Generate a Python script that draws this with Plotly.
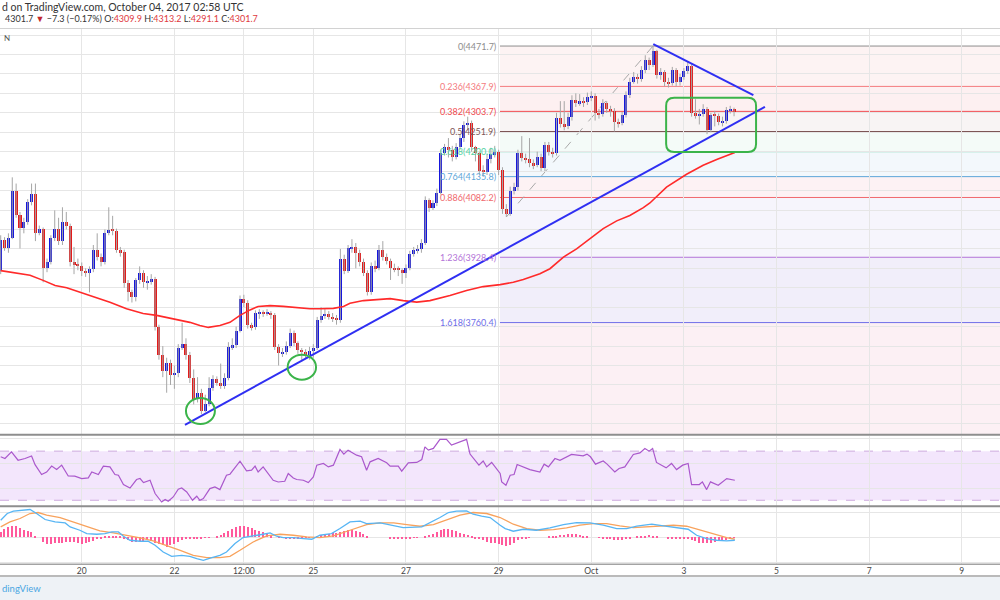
import plotly.graph_objects as go

# ---------------- data (2h BTCUSD candles, index 0 = Sep 18 06:00) ----------------
first_open = 3894
closes = [
    3972, 3951, 3979, 4098, 4036, 4003, 4020, 4070, 4090, 3992,
    4000, 3900, 3917, 3977, 4002, 3969, 4020, 4010, 3915, 3910,
    3907, 3892, 3889, 3897, 3946, 3930, 3917, 3992, 3998, 3996,
    3946, 3941, 3861, 3838, 3825, 3869, 3887, 3864, 3866, 3872,
    3748, 3676, 3637, 3657, 3626, 3630, 3696, 3706, 3676, 3619,
    3564, 3580, 3534, 3552, 3593, 3616, 3606, 3598, 3619, 3697,
    3702, 3740, 3820, 3812, 3753, 3748, 3784, 3786, 3784, 3786,
    3779, 3697, 3681, 3685, 3700, 3734, 3708, 3690, 3685, 3676,
    3688, 3695, 3766, 3778, 3782, 3775, 3772, 3768, 3925, 3894,
    3951, 3956, 3940, 3917, 3889, 3838, 3905, 3900, 3946, 3930,
    3920, 3902, 3897, 3896, 3887, 3902, 3938, 3946, 3949, 3966,
    4075, 4055, 4067, 4095, 4196, 4211, 4204, 4186, 4211, 4234,
    4268, 4275, 4211, 4196, 4150, 4148, 4180, 4194, 4198, 4152,
    4052, 4040, 4098, 4108, 4196, 4183, 4180, 4170, 4165, 4186,
    4158, 4217, 4200, 4196, 4286, 4270, 4265, 4289, 4332, 4325,
    4330, 4327, 4340, 4343, 4299, 4296, 4325, 4310, 4305, 4276,
    4273, 4294, 4345, 4380, 4392, 4386, 4410, 4436, 4423, 4458,
    4397, 4404, 4379, 4376, 4410, 4379, 4392, 4408, 4420, 4299,
    4294, 4297, 4309, 4255, 4294, 4292, 4276, 4279, 4307, 4309.9,
    4301.7]
highs = [
    3985, 3980, 3990, 4134, 4118, 4045, 4030, 4078, 4118, 4118,
    4010, 4005, 3925, 3985, 4049, 4030, 4057, 4045, 4015, 3955,
    3925, 3915, 3900, 3905, 3960, 3990, 3938, 4000, 4057, 4035,
    4002, 3955, 3948, 3870, 3845, 3875, 3905, 3895, 3880, 3885,
    3878, 3755, 3700, 3670, 3665, 3650, 3705, 3760, 3720, 3685,
    3640, 3620, 3590, 3575, 3620, 3625, 3622, 3655, 3630, 3710,
    3720, 3750, 3830, 3832, 3818, 3760, 3792, 3795, 3792, 3795,
    3790, 3785, 3705, 3695, 3712, 3745, 3740, 3712, 3695, 3692,
    3698, 3705, 3775, 3800, 3795, 3790, 3785, 3780, 3950, 3935,
    3960, 3975, 3965, 3948, 3925, 3895, 3915, 3920, 3960, 3970,
    3938, 3925, 3912, 3905, 3900, 3910, 3945, 3955, 3960, 3975,
    4085, 4080, 4075, 4105, 4205, 4220, 4235, 4215, 4222, 4245,
    4278, 4290, 4280, 4215, 4200, 4165, 4195, 4210, 4215, 4205,
    4160, 4065, 4110, 4120, 4205, 4240, 4195, 4235, 4180, 4200,
    4195, 4225, 4225, 4210, 4300, 4330, 4330, 4300, 4345, 4350,
    4348, 4340, 4352, 4355, 4350, 4310, 4335, 4330, 4318, 4312,
    4285, 4302, 4355, 4390, 4405, 4400, 4420, 4448, 4442, 4471.7,
    4462, 4415, 4410, 4390, 4418, 4415, 4400, 4415, 4432, 4425,
    4335, 4310, 4322, 4315, 4300, 4305, 4298, 4290, 4315, 4318,
    4313.2]
lows = [
    3885, 3945, 3940, 3975, 4030, 3951, 3990, 4012, 4062, 3970,
    3985, 3864, 3890, 3910, 3970, 3960, 3960, 4000, 3905, 3885,
    3895, 3880, 3878, 3838, 3890, 3920, 3905, 3910, 3985, 3985,
    3940, 3930, 3850, 3815, 3812, 3815, 3860, 3850, 3845, 3858,
    3740, 3665, 3620, 3580, 3600, 3590, 3620, 3690, 3665, 3605,
    3550, 3555, 3525, 3530, 3545, 3585, 3598, 3590, 3590, 3612,
    3690, 3695, 3735, 3800, 3745, 3740, 3742, 3770, 3775, 3778,
    3770, 3690, 3650, 3672, 3678, 3695, 3700, 3680, 3660, 3668,
    3665, 3670, 3690, 3760, 3770, 3768, 3762, 3755, 3760, 3885,
    3888, 3940, 3900, 3905, 3880, 3830, 3832, 3890, 3895, 3920,
    3910, 3870, 3890, 3880, 3860, 3875, 3895, 3930, 3938, 3940,
    3960, 4045, 4050, 4060, 4090, 4190, 4185, 4175, 4180, 4205,
    4225, 4255, 4200, 4175, 4140, 4135, 4140, 4170, 4185, 4140,
    4040, 4031.9, 4035, 4090, 4100, 4175, 4170, 4160, 4155, 4160,
    4150, 4150, 4190, 4185, 4190, 4262, 4255, 4258, 4280, 4315,
    4318, 4315, 4320, 4330, 4280, 4285, 4290, 4300, 4290, 4252,
    4262, 4268, 4288, 4338, 4375, 4375, 4380, 4402, 4410, 4418,
    4388, 4385, 4368, 4365, 4370, 4368, 4370, 4385, 4400, 4290,
    4285, 4270, 4290, 4245, 4250, 4265, 4268, 4265, 4272, 4298,
    4291.1]
opens = [first_open] + closes[:-1]
idx = list(range(len(closes)))

# moving average (red)
ma_x = [0, 2.4, 7.6, 11.0, 14.1, 17.1, 20.5, 24, 28.3, 32.6, 36.9, 40.4, 44.7, 49, 51.6, 53.8,
        56.8, 59.4, 62, 64.6, 66.7, 69.8, 73.2, 76.7, 80.1, 82.7, 86.2, 88.8, 90.5, 94, 100.9,
        104.3, 107.8, 111.2, 116.4, 120.7, 125, 129.4, 132.8, 135.4, 139.7, 142.3, 145.8, 149.2,
        152.7, 156.1, 159.6, 163, 166.5, 168.2, 172.5, 177.7, 182, 185.5, 190.2]
ma_y = [3894, 3890, 3882, 3869, 3856, 3850, 3839, 3827, 3813, 3796, 3784, 3779, 3770, 3761, 3753, 3748,
        3753, 3761, 3779, 3793, 3802, 3804, 3802, 3798, 3796, 3796, 3797, 3802, 3810, 3817, 3822,
        3817, 3813, 3817, 3830, 3843, 3853, 3858, 3864, 3871, 3886, 3899, 3929, 3950,
        3976, 4002, 4022, 4036, 4056, 4068, 4109, 4142, 4165, 4180, 4198]

# RSI
rsi_x = [0, 1.1, 2.8, 4.5, 6.3, 8, 8.9, 10.6, 11.9, 13.2, 14.5, 15.8, 17.5, 19.2, 21, 22.7, 23.6, 25.3,
         26.6, 28.3, 29.6, 30.5, 31.8, 33.5, 35.2, 36.1, 37, 38.7, 40, 41.7, 42.6, 43.4, 44.7, 46, 46.9,
         48.2, 49.7, 50.8, 51.6, 52.5, 54.2, 55.5, 56.8, 58.5, 59.4, 62, 63.7, 65, 65.9, 66.7, 68, 70.6,
         71.9, 73.6, 74.5, 75.8, 76.7, 78.4, 79.7, 81, 81.9, 83.6, 84.9, 86.2, 87.9, 88.9, 90, 92.2, 93.5,
         94.8, 95.7, 97.8, 100, 100.9, 103, 103.9, 105.6, 107.8, 109.1, 109.9, 110.8, 112.1, 113.8, 115.5,
         116.8, 118.1, 119.4, 120.7, 121.6, 123.9, 125, 125.9, 127.2, 129.4, 129.8, 130.9, 132, 133,
         133.8, 135, 137.1, 139.7, 140.8, 141.9, 143.6, 144.9, 147.9, 150.9, 151.9, 152.8, 154.1, 156.1,
         157.1, 159.1, 160.2, 161.7, 163.9, 165.6, 166.9, 168, 168.9, 169.9, 172.4, 173.8, 175.1, 176.7,
         178.1, 179, 181, 181.8, 182.9, 183.9, 185.9, 188.1, 190.2]
rsi_y = [65.4, 64, 69.4, 62.6, 64, 66, 59, 51, 53, 57.8, 55, 58.6, 49.8, 49.6, 47.7, 48.2, 53, 51,
         57.8, 57.2, 51, 50.4, 42.8, 40, 46.9, 47.7, 44.4, 46.3, 35.5, 28.6, 30.6, 29.2, 32.7, 39, 40,
         36.8, 30, 33.3, 30, 31.4, 39.5, 40.9, 38.7, 50.4, 51.2, 61.8, 53.9, 54.5, 57.8, 53, 57.2, 46.3,
         44.9, 45.5, 51.8, 48.2, 46.9, 46.3, 44.4, 49, 58.6, 60, 57.2, 58.6, 71.4, 67.6, 70.8, 66.7, 65.4,
         54.5, 61.3, 64, 60.5, 57.8, 57.8, 53.7, 60.5, 60.8, 63.2, 73.5, 70.8, 72.2, 79.6, 79.6,
         74.9, 76.3, 77.6, 79.6, 67.6, 58.6, 62, 57.2, 60.8, 51.8, 45, 42.2, 50.4, 51,
         59.1, 57.8, 55, 53, 59.4, 57.2, 64, 62.6, 67.3, 66.2, 67.6, 65.4, 59.4, 62,
         59.4, 53, 55.9, 57.2, 67.3, 68.6, 72.2, 70, 72.2, 60.8, 56.4, 60, 55, 58.6,
         60, 42.8, 42.8, 45, 38.7, 45, 42.2, 47.7, 46.3]

# MACD line, signal line, histogram
macd_x = [0, 1.7, 3.3, 7.6, 9.3, 11.5, 14.1, 16.7, 18, 20.5, 22.3, 24.9, 27, 28.8, 30.5, 31.8, 33.5,
          36.1, 38.2, 40, 42.1, 44.3, 46.9, 49, 50.8, 52.5, 54.7, 56.8, 58.5, 60.7, 62.8, 65.4, 68,
          69.8, 71.5, 73.2, 75.8, 78.4, 80.6, 82.7, 85.7, 87.9, 90.5, 93.1, 94.8, 98.3, 100.9, 104.3,
          109.1, 111.2, 113.8, 116, 118.1, 120.7, 122.4, 124.6, 126.8, 129.4, 130.7, 132.8, 135.4,
          138.8, 142.3, 145.8, 149.2, 152.7, 156.1, 159.6, 162.2, 164.8, 168.7, 171.7, 175.1, 178.1,
          180.3, 182.9, 185.5, 188.1, 190.2]
macd_y = [34.6, 48, 52.6, 56, 48, 36, 31.2, 29.2, 21.2, 14.6, 8, 6.6, 8, 11.2, 11.2, 2.6, -5.4,
          -7.4, -7.4, -15.4, -28.8, -37.4, -35.4, -37.4, -42, -45.4, -40, -35.4, -28.8, -12, 0, 2.6, 6.6,
          9.2, 2.6, 0, 0, -2, -3.4, 4.6, 8, 18, 31.2, 32.6, 28, 29.2, 24.6, 20,
          21.2, 29.2, 40, 50, 52.6, 53.2, 46.6, 42.6, 40, 24.6, 18, 12.6, 16.6,
          14.6, 19.2, 26, 30, 29.2, 24.6, 18, 18, 22.6, 26.6, 23.2, 20, 16.6,
          4.6, -2, -5.4, -6.8, -5.4]
sig_x = [0, 2.4, 5, 7.6, 9.7, 11.9, 15.4, 18.8, 22.3, 25.7, 29.2, 32.6, 36.1, 39.5, 43, 46.5, 49.9,
         53.4, 56.8, 59.4, 62, 65.4, 68.9, 72.4, 75.8, 79.3, 82.7, 86.2, 90.5, 94.8, 98.3, 101.8, 105.2,
         108.6, 112.1, 115.5, 119, 122.4, 125.9, 129.4, 132.8, 136.3, 139.7, 143.2, 146.6, 150.1, 153.5,
         157, 160.4, 163.9, 167.4, 170.8, 174.3, 177.7, 181.2, 184.6, 188.1, 190.2]
sig_y = [21.2, 31.2, 38, 48, 50, 44.6, 40, 31.2, 21.2, 13.2, 9.2, 4.6, -0.8, -6.8, -15.4, -25.4, -35.4,
         -40, -40, -37.4, -25.4, -8.8, 3.2, 6.6, 4.6, 1.2, 0, 3.2, 14.6, 26, 29.2, 29.2, 26,
         22.6, 26, 34.6, 44.6, 50, 48, 40, 26.6, 18, 14.6, 16, 19.2, 24.6, 28,
         28, 23.2, 20, 21.2, 22.6, 24.6, 22.6, 14.6, 6.6, 0, -3.4]
hist = [
    11, 16, 20, 22, 23, 18, 15, 13, 10, 3,
    0, -10, -13, -13, -12, -11, -11, -10, -9, -10,
    -12, -13, -12, -10, -8, -4, -2, 1, 2, 3,
    3, 1, -2, -5, -9, -9, -8, -7, -6, -8,
    -11, -13, -16, -19, -16, -14, -10, -5, -4, -3,
    -3, -3, -2, -1, -1, 0, 3, 4, 8, 12,
    16, 20, 22, 23, 21, 18, 14, 12, 10, 8,
    3, 0, -1, -1, -3, -2, -3, -3, -2, -1,
    -1, 0, 3, 5, 6, 7, 8, 9, 11, 13,
    15, 15, 13, 10, 6, 3, 0, 0, 0, 0,
    0, -2, -2, -3, -4, -3, -2, -1, -1, 0,
    2, 5, 7, 11, 14, 16, 16, 15, 12, 9,
    7, 4, 1, -2, -4, -6, -9, -11, -12, -13,
    -15, -17, -15, -12, -6, -3, -2, -1, 0, 0,
    0, 0, 1, 3, 3, 4, 5, 6, 6, 7,
    5, 3, 1, 0, 0, -1, -3, -3, -4, -5,
    -5, -5, -4, -2, 0, 1, 2, 3, 4, 3,
    2, 0, 0, -2, -3, -3, -2, -3, -3, -5,
    -7, -11, -12, -12, -11, -9, -7, -6, -5, -3,
    -1]

tick_idx = [21, 45, 63, 81, 105, 129, 153, 177, 201, 225, 249]
tick_text = ["20", "22", "12:00", "25", "27", "29", "Oct", "3", "5", "7", "9"]

fib_ratio_text = ["0", "0.236", "0.382", "0.5", "0.618", "0.764", "0.886", "1.236", "1.618"]
fib_prices = [4471.7, 4367.9, 4303.7, 4251.9, 4200.0, 4135.8, 4082.2, 3928.4, 3760.4]
fib_line_colors = ["#8d8d8d", "#f47a7e", "#f04a4f", "#7d5656", "#55d2a3", "#5ea6d8",
                   "#f0686c", "#b374d8", "#6e6ee8"]
fib_band_colors = ["#fdf3f3", "#fdf0f1", "#f8f4f4", "#f4fbf8", "#f3f8fc", "#fdf2f4",
                   "#f6f5fc", "#f1eefa", "#fcf0f4"]

# drawings (index, price)
fib_left = 129.35
fib_anchor_low = (131, 4031.9)
fib_anchor_high = (169, 4471.7)
support_line = (47.75, 3497.6, 198.0, 4315.3)
resist_line = (169.07, 4476.9, 195.0, 4345.4)
circles = [(48.0, 3499.4, 55.5, 3566.4), (74.35, 3613.6, 81.7, 3678.0)]
green_box = (172.4, 4199.3, 195.7, 4338.5)
box_r = (2.1, 20.6)

# ---------------- layout geometry ----------------
W, H = 1000, 600
T, B = 28, 24
PH = H - T - B


def py(p):
    return (H - B - p) / PH


FONT = "Lato, 'Open Sans', sans-serif"
BLUE_C = "#1616dc"
RED_C = "#e31b1b"

fig = go.Figure()

# wicks
wx, wy = [], []
for i, (h, l) in enumerate(zip(highs, lows)):
    wx += [i, i, None]
    wy += [l, h, None]
fig.add_trace(go.Scatter(x=wx, y=wy, mode="lines", line=dict(color="#a6a6a6", width=1),
                         xaxis="x", yaxis="y", hoverinfo="skip"))
# bodies
body = [max(abs(c - o), 2.8) for o, c in zip(opens, closes)]
base = [min(o, c) for o, c in zip(opens, closes)]
bcol = [BLUE_C if c >= o else RED_C for o, c in zip(opens, closes)]
fig.add_trace(go.Bar(x=idx, y=body, base=base, width=0.78, marker=dict(color=bcol, line=dict(width=0)),
                     xaxis="x", yaxis="y"))
# MA
fig.add_trace(go.Scatter(x=ma_x, y=ma_y, mode="lines", line=dict(color="#ff2a2a", width=1.6),
                         xaxis="x", yaxis="y"))
# RSI
fig.add_trace(go.Scatter(x=rsi_x, y=rsi_y, mode="lines", line=dict(color="#aa58cc", width=1.2),
                         xaxis="x", yaxis="y2"))
# MACD
fig.add_trace(go.Bar(x=idx, y=hist, width=0.3, marker=dict(color="#ff5a9c", line=dict(width=0)),
                     xaxis="x", yaxis="y3"))
fig.add_trace(go.Scatter(x=sig_x, y=sig_y, mode="lines", line=dict(color="#f8a25c", width=1.3),
                         xaxis="x", yaxis="y3"))
fig.add_trace(go.Scatter(x=macd_x, y=macd_y, mode="lines", line=dict(color="#57b5f4", width=1.3),
                         xaxis="x", yaxis="y3"))

shapes = []
# fib bands & lines
for k, p in enumerate(fib_prices):
    lower = fib_prices[k + 1] if k + 1 < len(fib_prices) else 3300
    shapes.append(dict(type="rect", xref="x", yref="y", x0=fib_left, x1=300, y0=lower, y1=p,
                       fillcolor=fib_band_colors[k], line=dict(width=0), layer="below"))
for k, p in enumerate(fib_prices):
    shapes.append(dict(type="line", xref="x", yref="y", x0=fib_left, x1=300, y0=p, y1=p,
                       line=dict(color=fib_line_colors[k], width=1), layer="below"))
shapes.append(dict(type="line", xref="x", yref="y", x0=fib_anchor_low[0], y0=fib_anchor_low[1],
                   x1=fib_anchor_high[0], y1=fib_anchor_high[1],
                   line=dict(color="#a8a8a8", width=1, dash="dash"), layer="below"))
# RSI band
shapes.append(dict(type="rect", xref="paper", yref="y2", x0=0, x1=1, y0=30, y1=70,
                   fillcolor="#f3e6fc", line=dict(width=0), layer="below"))
for lv in (30, 70):
    shapes.append(dict(type="line", xref="paper", yref="y2", x0=0, x1=1, y0=lv, y1=lv,
                       line=dict(color="#cdaade", width=1, dash="dash"), layer="below"))
# trend lines
for (x0, y0, x1, y1) in (support_line, resist_line):
    shapes.append(dict(type="line", xref="x", yref="y", x0=x0, y0=y0, x1=x1, y1=y1,
                       line=dict(color="#2f2ff2", width=2)))
# circles
for (x0, y0, x1, y1) in circles:
    shapes.append(dict(type="circle", xref="x", yref="y", x0=x0, y0=y0, x1=x1, y1=y1,
                       line=dict(color="#3bb44a", width=2)))
# rounded rectangle
bx0, by0, bx1, by1 = green_box
rx, ry = box_r
path = (f"M {bx0+rx},{by1} L {bx1-rx},{by1} Q {bx1},{by1} {bx1},{by1-ry} "
        f"L {bx1},{by0+ry} Q {bx1},{by0} {bx1-rx},{by0} L {bx0+rx},{by0} "
        f"Q {bx0},{by0} {bx0},{by0+ry} L {bx0},{by1-ry} Q {bx0},{by1} {bx0+rx},{by1} Z")
shapes.append(dict(type="path", xref="x", yref="y", path=path, line=dict(color="#3bb44a", width=2)))

# panel separators and frame
shapes.append(dict(type="line", xref="paper", yref="paper", x0=0, x1=1, y0=py(28.5), y1=py(28.5),
                   line=dict(color="#d2d2d2", width=1)))
for p, c, w in ((434.8, "#8e8e8e", 2), (506.3, "#8e8e8e", 2), (564.3, "#a3a3a3", 1.5), (576.0, "#a3a3a3", 1.5)):
    shapes.append(dict(type="line", xref="paper", yref="paper", x0=0, x1=1, y0=py(p), y1=py(p),
                       line=dict(color=c, width=w)))
shapes.append(dict(type="rect", xref="paper", yref="paper", x0=0, x1=1, y0=py(600), y1=py(577),
                   fillcolor="#eef2f6", line=dict(width=0)))

annotations = []
for k, p in enumerate(fib_prices):
    annotations.append(dict(xref="x", yref="y", x=fib_left, y=p, xanchor="right", yanchor="middle",
                            xshift=-2, showarrow=False,
                            text=f"{fib_ratio_text[k]}({p:.1f})",
                            font=dict(family=FONT, size=9, color=fib_line_colors[k])))
VAL = "#e0393e"
line2 = ('4301.7 <span style="color:#c0262b">▼</span> −7.3 (−0.17%) '
         f'O:<span style="color:{VAL}">4309.9</span> H:<span style="color:{VAL}">4313.2</span> '
         f'L:<span style="color:{VAL}">4291.1</span> C:<span style="color:{VAL}">4301.7</span>')
annotations += [
    dict(xref="paper", yref="paper", x=0, y=py(7), xanchor="left", yanchor="middle", showarrow=False,
         text="d on TradingView.com, October 04, 2017 02:58 UTC",
         font=dict(family=FONT, size=10.5, color="#333333")),
    dict(xref="paper", yref="paper", x=0.003, y=py(18), xanchor="left", yanchor="middle", showarrow=False,
         text=line2, font=dict(family=FONT, size=9, color="#333333")),
    dict(xref="paper", yref="paper", x=0.002, y=py(38), xanchor="left", yanchor="middle", showarrow=False,
         text="N", font=dict(family=FONT, size=8, color="#555555")),
    dict(xref="paper", yref="paper", x=0, y=py(588), xanchor="left", yanchor="middle", showarrow=False,
         text="dingView", font=dict(family=FONT, size=9.5, color="#4aa6e2")),
]

GRID = "#e6e6e6"
fig.update_layout(
    width=W, height=H, margin=dict(l=0, r=0, t=T, b=B),
    paper_bgcolor="white", plot_bgcolor="white", showlegend=False,
    barmode="overlay", bargap=0,
    xaxis=dict(domain=[0, 1], range=[-0.18, 258.9], anchor="y3", tickmode="array",
               tickvals=tick_idx, ticktext=tick_text, showgrid=True, gridcolor=GRID, gridwidth=1,
               zeroline=False, showline=False, ticks="",
               tickfont=dict(family=FONT, size=8.5, color="#454545")),
    yaxis=dict(domain=[py(434.8), 1], range=[3471.8, 4518.1], anchor="x", showgrid=True,
               gridcolor=GRID, tick0=0, dtick=50, showticklabels=False, zeroline=False),
    yaxis2=dict(domain=[py(506.3), py(435.6)], range=[25.1, 82.65], anchor="x", tickmode="array",
                tickvals=[40, 60, 80], showgrid=True, gridcolor=GRID, showticklabels=False, zeroline=False),
    yaxis3=dict(domain=[py(564.3), py(507.2)], range=[-53.4, 60.6], anchor="x", tickmode="array",
                tickvals=[-50, 0, 50], showgrid=True, gridcolor=GRID, showticklabels=False, zeroline=False),
    shapes=shapes, annotations=annotations,
)

fig.write_html("out.html")
